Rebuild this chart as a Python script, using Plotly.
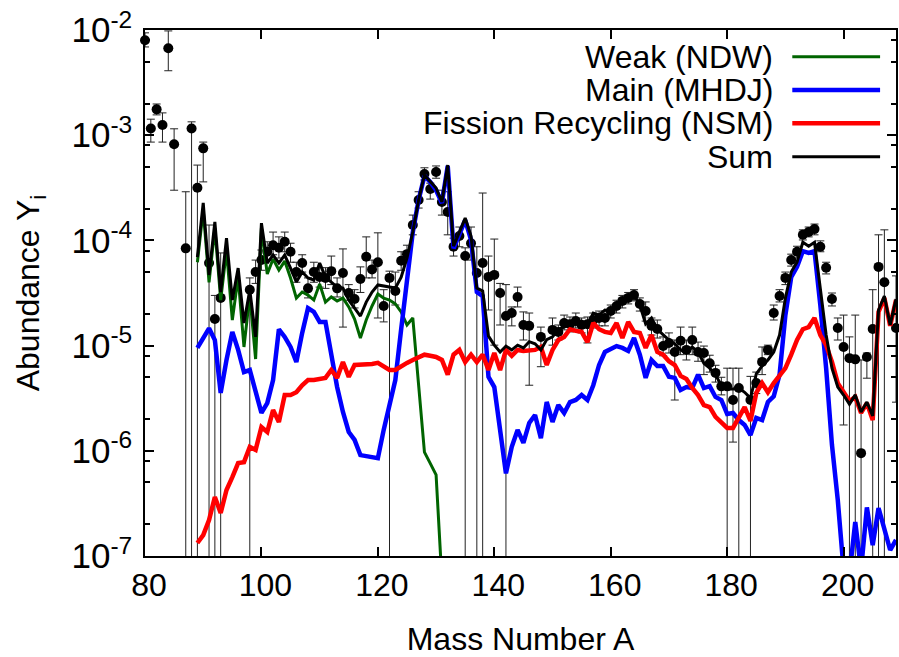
import plotly.graph_objects as go

# ---------------- observed abundances (dots with error bars) ----------------
obs_A = [80, 81, 82, 83, 84, 85, 87, 88, 89, 90, 91, 92, 93, 98, 99,
         100, 101, 102, 103, 104, 105, 106, 107, 108, 109, 110, 111, 112, 113, 114,
         115, 116, 117, 118, 119, 120, 121, 122, 123, 124, 125, 126, 127, 128, 129,
         130, 131, 132, 133, 134, 135, 136, 137, 138, 139, 140, 141, 142, 143, 144,
         145, 146, 148, 150, 151, 152, 153, 154, 155, 156, 157, 158, 159, 160, 161,
         162, 163, 164, 165, 166, 167, 168, 169, 170, 171, 172, 173, 174, 175, 176,
         177, 178, 179, 180, 181, 182, 184, 185, 186, 187, 188, 189, 190, 191, 192,
         193, 194, 195, 196, 197, 198, 199, 200, 201, 202, 203, 204, 205, 206, 207, 209]
obs_Y = [8.0e-3, 1.16e-3, 1.76e-3, 1.25e-3, 6.7e-3, 8.2e-4, 8.4e-5, 1.16e-3, 3.17e-4, 7.5e-4, 6.1e-5, 1.79e-5, 2.84e-5, 3.4e-5, 5.0e-5,
         6.5e-5, 7.8e-5, 9.0e-5, 8.5e-5, 9.7e-5, 7.8e-5, 5.0e-5, 6.1e-5, 3.5e-5, 5.0e-5, 4.5e-5, 4.4e-5, 5.1e-5, 3.5e-5, 4.9e-5,
         3.16e-5, 2.77e-5, 4.3e-5, 7.0e-5, 5.3e-5, 6.2e-5, 2.38e-5, 4.4e-5, 3.3e-5, 6.4e-5, 7.4e-5, 1.40e-4, 2.42e-4, 4.27e-4, 3.08e-4,
         4.47e-4, 2.32e-4, 1.86e-4, 8.7e-5, 1.10e-4, 7.1e-5, 9.4e-5, 4.9e-5, 6.1e-5, 4.5e-5, 4.7e-5, 3.16e-5, 1.91e-5, 2.04e-5, 2.9e-5,
         1.57e-5, 1.54e-5, 1.21e-5, 1.41e-5, 1.35e-5, 1.64e-5, 1.60e-5, 1.71e-5, 1.57e-5, 1.60e-5, 1.75e-5, 1.83e-5, 1.83e-5, 2.13e-5, 2.38e-5,
         2.66e-5, 2.84e-5, 3.03e-5, 2.49e-5, 2.13e-5, 1.54e-5, 1.44e-5, 9.9e-6, 1.06e-5, 8.7e-6, 1.11e-5, 9.1e-6, 1.13e-5, 8.7e-6, 8.5e-6,
         6.8e-6, 5.5e-6, 4.1e-6, 4.1e-6, 3.04e-6, 3.96e-6, 3.04e-6, 4.4e-6, 7.0e-6, 9.1e-6, 2.04e-5, 2.96e-5, 4.4e-5, 6.5e-5, 7.8e-5,
         1.13e-4, 1.20e-4, 1.28e-4, 8.7e-5, 5.5e-5, 2.77e-5, 1.47e-5, 9.7e-6, 7.6e-6, 7.4e-6, 9.5e-7, 7.8e-6, 1.44e-5, 5.6e-5, 4.0e-5, 1.47e-5]
# upper and lower ends of the error bars (0 = bar runs off the bottom)
obs_hi = [9.4e-3, 1.42e-3, 1.98e-3, 1.63e-3, 9.8e-3, 1.15e-3, 2.9e-4, 1.34e-3, 5.2e-4, 8.6e-4, 1.40e-4, 3.0e-5, 7.6e-5, 4.4e-5, 6.5e-5,
          8.1e-5, 9.7e-5, 1.20e-4, 1.08e-4, 1.20e-4, 9.4e-5, 6.2e-5, 7.3e-5, 4.4e-5, 6.2e-5, 5.5e-5, 5.5e-5, 7.1e-5, 4.4e-5, 8.3e-5,
          3.8e-5, 3.4e-5, 5.6e-5, 1.08e-4, 6.5e-5, 1.18e-4, 3.4e-5, 5.1e-5, 5.0e-5, 7.8e-5, 9.0e-5, 1.74e-4, 2.9e-4, 4.9e-4, 3.5e-4,
          5.1e-4, 3.0e-4, 2.9e-4, 1.05e-4, 1.34e-4, 8.5e-5, 1.34e-4, 8.7e-5, 2.82e-4, 7.1e-5, 1.03e-4, 3.9e-5, 3.8e-5, 2.33e-5, 3.6e-5,
          2.09e-5, 2.04e-5, 1.50e-5, 1.83e-5, 1.57e-5, 1.95e-5, 1.87e-5, 2.04e-5, 1.83e-5, 1.87e-5, 2.04e-5, 2.13e-5, 2.13e-5, 2.43e-5, 2.7e-5,
          3.0e-5, 3.2e-5, 3.4e-5, 2.84e-5, 2.6e-5, 1.83e-5, 1.75e-5, 1.21e-5, 1.32e-5, 1.13e-5, 1.50e-5, 1.13e-5, 1.50e-5, 1.08e-5, 9.9e-6,
          8.1e-6, 6.5e-6, 5.0e-6, 6.1e-6, 6.1e-6, 6.1e-6, 5.1e-6, 5.6e-6, 9.7e-6, 1.01e-5, 2.43e-5, 3.4e-5, 5.0e-5, 7.4e-5, 8.8e-5,
          1.26e-4, 1.34e-4, 1.43e-4, 9.9e-5, 6.2e-5, 3.16e-5, 1.83e-5, 1.95e-5, 1.21e-5, 1.95e-5, 7.3e-6, 8.5e-6, 3.4e-5, 1.13e-4, 1.26e-4, 4.6e-5]
obs_lo = [6.9e-3, 8.6e-4, 1.56e-3, 8.6e-4, 4.1e-3, 3.0e-4, 0, 0, 0, 3.6e-4, 0, 0, 0, 0, 3.9e-5,
          5.2e-5, 6.5e-5, 7.3e-5, 6.8e-5, 7.8e-5, 6.2e-5, 4.0e-5, 5.0e-5, 2.84e-5, 4.0e-5, 3.6e-5, 3.5e-5, 3.8e-5, 2.9e-5, 1.50e-5,
          2.7e-5, 2.28e-5, 3.2e-5, 4.4e-5, 4.4e-5, 1.83e-5, 1.68e-5, 0, 2.43e-5, 5.2e-5, 6.2e-5, 1.13e-4, 2.03e-4, 3.75e-4, 2.47e-4,
          3.9e-4, 1.74e-4, 1.13e-4, 7.1e-5, 8.7e-5, 0, 6.5e-5, 0, 0, 2.18e-5, 1.01e-5, 1.57e-5, 0, 1.54e-5, 2.33e-5,
          1.13e-5, 4.2e-6, 6.3e-6, 1.01e-5, 1.13e-5, 1.41e-5, 1.35e-5, 1.47e-5, 1.32e-5, 1.06e-5, 1.47e-5, 1.54e-5, 1.54e-5, 1.83e-5, 2.04e-5,
          2.28e-5, 2.49e-5, 2.66e-5, 2.13e-5, 1.71e-5, 1.26e-5, 1.18e-5, 8.0e-6, 8.5e-6, 3.04e-6, 8.2e-6, 7.3e-6, 8.2e-6, 7.1e-6, 5.3e-6,
          5.6e-6, 4.5e-6, 3.4e-6, 0, 1.21e-6, 0, 0, 3.5e-6, 5.3e-6, 8.2e-6, 1.75e-5, 2.6e-5, 3.8e-5, 5.7e-5, 6.8e-5,
          1.01e-4, 1.08e-4, 1.13e-4, 7.8e-5, 4.8e-5, 2.38e-5, 1.13e-5, 1.76e-6, 0, 0, 0, 4.9e-6, 0, 0, 0, 2.9e-6]

# ---------------- model components ----------------
weak_A = list(range(89, 132))
weak_Y = [6.2e-5, 1.95e-4, 4.0e-5, 1.31e-4, 2.71e-5, 8.1e-5, 1.75e-5, 4.48e-5, 9.7e-6, 3.02e-5,
          7.45e-6, 1.31e-4, 4.79e-5, 6.65e-5, 5.23e-5, 6.36e-5, 4.39e-5, 2.83e-5, 3.23e-5, 3.02e-5,
          2.71e-5, 3.85e-5, 2.59e-5, 2.9e-5, 2.65e-5, 2.83e-5, 2.33e-5, 1.79e-5, 1.18e-5, 1.75e-5,
          2.38e-5, 3.09e-5, 2.83e-5, 2.71e-5, 2.49e-5, 2.09e-5, 1.57e-5, 1.83e-5, 4.2e-6, 9.7e-7,
          7.6e-7, 5.9e-7, 5.9e-8]

model_A = list(range(89, 210))
main_Y = [9.5e-6, 1.18e-5, 1.46e-5, 1.13e-5, 3.55e-6, 7.3e-6, 1.35e-5, 9.1e-6, 5.6e-6, 5.86e-6,
          3.55e-6, 2.29e-6, 2.84e-6, 4.71e-6, 1.43e-5, 1.21e-5, 9.7e-6, 6.98e-6, 1.32e-5, 2.27e-5,
          2.09e-5, 1.68e-5, 1.68e-5, 8.2e-6, 4.04e-6, 2.34e-6, 1.51e-6, 1.27e-6, 9.1e-7, 8.9e-7,
          8.7e-7, 8.5e-7, 1.58e-6, 2.72e-6, 4.71e-6, 1.43e-5, 4.39e-5, 1.20e-4, 2.42e-4, 4.1e-4,
          3.6e-4, 3.0e-4, 2.27e-4, 5.1e-4, 8.4e-5, 1.13e-4, 1.56e-4, 1.01e-4, 3.23e-5, 2.96e-5,
          5.05e-6, 4.04e-6, 1.58e-6, 6.1e-7, 1.09e-6, 1.58e-6, 1.19e-6, 1.84e-6, 2.19e-6, 1.32e-6,
          2.91e-6, 1.88e-6, 2.72e-6, 2.29e-6, 2.91e-6, 3.04e-6, 3.39e-6, 3.04e-6, 4.2e-6, 6.54e-6,
          8.7e-6, 9.3e-6, 9.9e-6, 9.5e-6, 8.9e-6, 1.18e-5, 8.2e-6, 4.93e-6, 7.3e-6, 6.4e-6,
          6.4e-6, 5.05e-6, 4.93e-6, 3.79e-6, 4.04e-6, 3.95e-6, 5.3e-6, 3.95e-6, 4.12e-6, 3.25e-6,
          3.04e-6, 2.24e-6, 2.29e-6, 1.96e-6, 1.76e-6, 1.41e-6, 2.05e-6, 1.96e-6, 2.91e-6, 3.3e-6,
          5.3e-6, 1.95e-5, 4.48e-5, 5.6e-5, 7.9e-5, 7.6e-5, 7.9e-5, 2.43e-5, 6.1e-6, 1.14e-6,
          3.4e-7, 7.4e-8, 6.6e-8, 2.1e-7, 7.4e-8, 2.9e-7, 1.27e-7, 2.86e-7, 1.77e-7, 1.14e-7,
          1.42e-7]
fission_Y = [1.33e-7, 1.58e-7, 2.2e-7, 3.64e-7, 2.56e-7, 4.24e-7, 5.63e-7, 7.65e-7, 7.8e-7, 1.09e-6,
             1.02e-6, 1.68e-6, 1.51e-6, 2.44e-6, 1.88e-6, 3.39e-6, 3.39e-6, 3.6e-6, 4.2e-6, 4.71e-6,
             4.71e-6, 4.82e-6, 4.93e-6, 5.86e-6, 4.93e-6, 6.98e-6, 5.05e-6, 6.54e-6, 6.54e-6, 6.54e-6,
             6.7e-6, 6.85e-6, 6.4e-6, 5.86e-6, 5.86e-6, 6.4e-6, 6.85e-6, 7.3e-6, 7.8e-6, 8.2e-6,
             8.0e-6, 7.8e-6, 7.3e-6, 5.3e-6, 8.2e-6, 9.1e-6, 6.98e-6, 8.2e-6, 6.98e-6, 8.2e-6,
             5.86e-6, 8.5e-6, 5.86e-6, 9.1e-6, 8.0e-6, 9.1e-6, 8.9e-6, 9.1e-6, 9.1e-6, 9.7e-6,
             6.54e-6, 9.1e-6, 1.13e-5, 1.21e-5, 1.43e-5, 1.38e-5, 1.35e-5, 1.08e-5, 1.64e-5, 1.43e-5,
             1.35e-5, 1.32e-5, 1.64e-5, 1.18e-5, 1.68e-5, 1.35e-5, 1.32e-5, 9.5e-6, 1.26e-5, 8.7e-6,
             8.2e-6, 7.1e-6, 6.54e-6, 5.15e-6, 4.82e-6, 3.95e-6, 3.39e-6, 2.72e-6, 2.6e-6, 2.1e-6,
             1.88e-6, 1.65e-6, 1.65e-6, 2.1e-6, 2.6e-6, 1.92e-6, 3.55e-6, 4.4e-6, 3.6e-6, 4.4e-6,
             5.25e-6, 6.1e-6, 8.2e-6, 1.13e-5, 1.43e-5, 1.5e-5, 1.83e-5, 1.26e-5, 1.01e-5, 6.98e-6,
             4.4e-6, 3.6e-6, 2.97e-6, 3.25e-6, 2.29e-6, 2.84e-6, 1.96e-6, 2.09e-5, 2.83e-5, 1.54e-5,
             2.71e-5]
sum_Y = [6.94e-5, 2.27e-4, 4.69e-5, 1.50e-4, 3.23e-5, 1.05e-4, 2.71e-5, 5.46e-5, 1.64e-5, 3.38e-5,
         1.21e-5, 1.46e-4, 6.09e-5, 7.26e-5, 6.09e-5, 7.26e-5, 5.46e-5, 4.02e-5, 5.0e-5, 4.39e-5,
         4.2e-5, 6.09e-5, 4.48e-5, 4.02e-5, 3.6e-5, 3.52e-5, 2.71e-5, 2.27e-5, 1.91e-5, 2.59e-5,
         3.23e-5, 3.77e-5, 3.68e-5, 3.6e-5, 3.52e-5, 4.48e-5, 6.8e-5, 1.20e-4, 2.42e-4, 4.19e-4,
         3.67e-4, 3.15e-4, 2.32e-4, 5.2e-4, 8.8e-5, 1.18e-4, 1.63e-4, 1.10e-4, 3.52e-5, 3.3e-5,
         1.23e-5, 1.01e-5, 8.7e-6, 9.9e-6, 9.1e-6, 1.01e-5, 9.5e-6, 1.09e-5, 1.04e-5, 9.1e-6,
         1.14e-5, 1.21e-5, 1.43e-5, 1.5e-5, 1.57e-5, 1.64e-5, 1.71e-5, 1.57e-5, 2.04e-5, 1.95e-5,
         2.18e-5, 2.13e-5, 2.54e-5, 2.71e-5, 2.9e-5, 3.02e-5, 2.43e-5, 1.61e-5, 1.83e-5, 1.43e-5,
         1.26e-5, 1.13e-5, 1.04e-5, 9.1e-6, 8.5e-6, 9.7e-6, 8.7e-6, 6.8e-6, 6.1e-6, 5.25e-6,
         4.2e-6, 3.87e-6, 3.87e-6, 3.95e-6, 3.6e-6, 3.17e-6, 5.37e-6, 6.4e-6, 7.3e-6, 8.7e-6,
         1.26e-5, 2.83e-5, 5.0e-5, 6.22e-5, 9.6e-5, 8.8e-5, 9.6e-5, 3.6e-5, 1.26e-5, 6.1e-6,
         4.04e-6, 3.39e-6, 2.78e-6, 3.4e-6, 2.34e-6, 2.91e-6, 2.14e-6, 2.18e-5, 2.96e-5, 1.57e-5,
         2.77e-5]

x_ticks = [80, 100, 120, 140, 160, 180, 200]
y_ticks = [1e-7, 1e-6, 1e-5, 1e-4, 1e-3, 1e-2]
y_ticktext = ["10<sup>-7</sup>", "10<sup>-6</sup>", "10<sup>-5</sup>",
              "10<sup>-4</sup>", "10<sup>-3</sup>", "10<sup>-2</sup>"]
y_minor = [m * d for d in [1e-7, 1e-6, 1e-5, 1e-4, 1e-3] for m in (2, 5, 8)]

series_names = ["Weak (NDW)", "Main (MHDJ)", "Fission Recycling (NSM)", "Sum"]
series_colors = ["#006400", "#0000ff", "#ff0000", "#000000"]
series_widths = [3, 4.5, 4.5, 3]

FONT = "Liberation Sans, Arial, Helvetica, sans-serif"
FS = 32

err_plus = [h - v for h, v in zip(obs_hi, obs_Y)]
err_minus = [v - l for v, l in zip(obs_Y, obs_lo)]

fig = go.Figure()

# error bars (clipped to the plot area)
fig.add_trace(go.Scatter(
    x=obs_A, y=obs_Y, mode="markers",
    marker=dict(size=10, color="rgba(0,0,0,0)"),
    error_y=dict(type="data", symmetric=False, array=err_plus, arrayminus=err_minus,
                 color="#222222", thickness=1, width=4),
    showlegend=False, hoverinfo="skip", cliponaxis=True))

# dots
fig.add_trace(go.Scatter(
    x=obs_A, y=obs_Y, mode="markers",
    marker=dict(size=10, color="black"),
    showlegend=False, cliponaxis=False))

model_x = [weak_A, model_A, model_A, model_A]
model_y = [weak_Y, main_Y, fission_Y, sum_Y]
for name, xs, ys, col, w in zip(series_names, model_x, model_y, series_colors, series_widths):
    fig.add_trace(go.Scatter(x=xs, y=ys, mode="lines", name=name,
                             line=dict(color=col, width=w), showlegend=False))

# gnuplot-style key: text then line sample
key_y = [0.9492, 0.8859, 0.8226, 0.7591]
for name, col, w, ky in zip(series_names, series_colors, series_widths, key_y):
    fig.add_annotation(x=0.8385, y=ky, xref="paper", yref="paper", text=name,
                       showarrow=False, xanchor="right", yanchor="middle",
                       font=dict(family=FONT, size=FS, color="black"))
    fig.add_shape(type="line", xref="paper", yref="paper",
                  x0=0.8619, x1=0.9788, y0=ky, y1=ky,
                  line=dict(color=col, width=w))

axis_common = dict(showline=True, linecolor="black", linewidth=1.5, mirror="allticks",
                   ticks="inside", ticklen=9, tickwidth=1.5, tickcolor="black",
                   showgrid=False, zeroline=False)

fig.update_layout(
    width=899, height=657,
    margin=dict(l=145, r=1, t=30, b=101),
    paper_bgcolor="white", plot_bgcolor="white",
    font=dict(family=FONT, size=FS, color="black"),
    xaxis=dict(range=[80, 209], tickvals=x_ticks, ticklabelshift=4,
               tickfont=dict(family=FONT, size=FS, color="black"),
               title=dict(text="Mass Number A", font=dict(family=FONT, size=FS), standoff=26),
               **axis_common),
    yaxis=dict(type="log", range=[-7, -2], tickvals=y_ticks, ticktext=y_ticktext,
               tickfont=dict(family=FONT, size=35, color="black"), ticklabelstandoff=4,
               minor=dict(tickvals=y_minor, ticks="inside", ticklen=5, tickwidth=1.5, tickcolor="black"),
               title=dict(text="Abundance Y<sub>i</sub>", font=dict(family=FONT, size=FS), standoff=22),
               **axis_common),
)

fig.write_html("out.html", config={"displayModeBar": False},
               post_script="document.body.style.margin='0px';")
